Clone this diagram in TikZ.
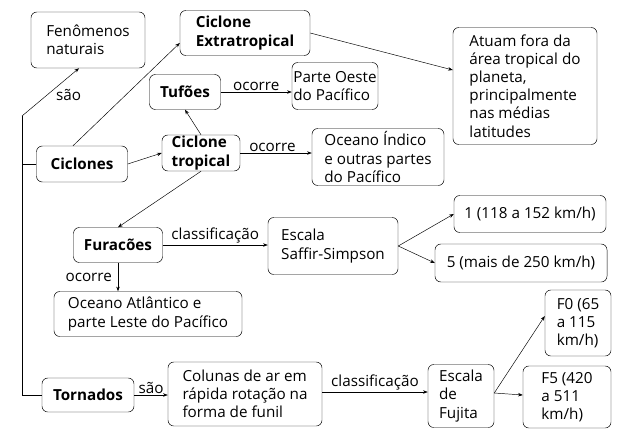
\documentclass[tikz,border=0pt]{standalone}
\usepackage{fontspec}
\setmainfont{Open Sans}
\usepackage{tikz}
\usetikzlibrary{arrows.meta}

\begin{document}
\begin{tikzpicture}[x=0.03cm,y=-0.03cm,
    ->,>={Stealth[length=4pt,width=3pt]},
    every node/.style={font=\fontsize{13}{15.5}\selectfont},
    box/.style={rectangle,
          draw,
          rounded corners=5pt,
          align=left,
          inner sep=0pt},
    lbl/.style={inner sep=1pt}]

    \useasboundingbox (0,0) rectangle (627,437);

    \node[box, minimum width=3.42cm, minimum height=1.68cm] (fen) at (88,40) {Fenômenos\\naturais};
    \node[box, minimum width=3.9cm, minimum height=1.35cm] (extra) at (245,33) {\textbf{Ciclone}\\\textbf{Extratropical}};
    \node[box, minimum width=4.32cm, minimum height=3.51cm] (atuam) at (525,86) {Atuam fora da\\área tropical do\\planeta,\\principalmente\\nas médias\\latitudes};
    \node[box, minimum width=2.13cm, minimum height=1.05cm] (tuf) at (185,92) {\textbf{Tufões}};
    \node[box, minimum width=2.58cm, minimum height=1.41cm] (oeste) at (335,86) {Parte Oeste\\do Pacífico};
    \node[box, minimum width=2.73cm, minimum height=1.08cm] (cic) at (82,164) {\textbf{Ciclones}};
    \node[box, minimum width=2.34cm, minimum height=1.08cm] (trop) at (201,153) {\textbf{Ciclone}\\\textbf{tropical}};
    \node[box, minimum width=3.96cm, minimum height=1.71cm] (indico) at (378,157) {Oceano Índico\\e outras partes\\do Pacífico};
    \node[box, minimum width=2.67cm, minimum height=1.05cm] (fur) at (118,245) {\textbf{Furacões}};
    \node[box, minimum width=3.9cm, minimum height=1.71cm] (saffir) at (333,246) {Escala\\Saffir-Simpson};
    \node[box, minimum width=4.56cm, minimum height=1.11cm] (um) at (530,214) {1 (118 a 152 km/h)};
    \node[box, minimum width=5.16cm, minimum height=1.14cm] (cinco) at (521,263) {5 (mais de 250 km/h)};
    \node[box, minimum width=5.64cm, minimum height=1.35cm] (atl) at (148,314) {Oceano Atlântico e\\parte Leste do Pacífico};
    \node[box, minimum width=1.98cm, minimum height=1.98cm] (fzero) at (578,323) {F0 (65\\a 115\\km/h)};
    \node[box, minimum width=2.64cm, minimum height=1.86cm] (fcinco) at (567,397) {F5 (420\\a 511\\km/h)};
    \node[box, minimum width=2.76cm, minimum height=1.02cm] (torn) at (88,395) {\textbf{Tornados}};
    \node[box, minimum width=4.62cm, minimum height=1.92cm] (col) at (245,394) {Colunas de ar em\\rápida rotação na\\forma de funil};
    \node[box, minimum width=1.98cm, minimum height=1.89cm] (fuj) at (461,396) {Escala\\de\\Fujita};

    \coordinate (top) at (22,116);
    \coordinate (bot) at (22,395);

    % tronco
    \draw[-] (bot) -- (top);
    \draw[-] (cic.west) -- (22,164);
    \draw[-] (torn.west) -- (bot);
    \draw (top) -- node[lbl,right=6pt,pos=0.45] {são} (fen.south -| 79,0);

    % ciclones
    \draw (cic.north -| 73,0) -- (extra.west |- 0,43);
    \draw (cic.east) -- (trop.west);
    \draw (trop.north) -- (tuf.south);
    \draw (tuf) -- node[lbl,above] {ocorre} (oeste.west |- tuf);
    \draw (trop) -- node[lbl,above,pos=0.45] {ocorre} (indico.west |- trop);
    \draw (extra.east) -- (atuam.west |- 0,70);
    \draw (trop.south) -- (fur.north);

    % furacoes
    \draw (fur) -- node[lbl,above] {classificação} (saffir.west |- fur);
    \draw (saffir.east) -- (um.west);
    \draw (saffir.east) -- (cinco.west);
    \draw (fur.south) -- node[lbl,left=4pt] {ocorre} (atl.north -| fur);

    % tornados
    \draw (torn) -- node[lbl,above] {são} (col.west |- torn);
    \draw (col.east |- 0,392) -- node[lbl,above] {classificação} (fuj.west |- 0,392);
    \draw (fuj.east |- 0,393) -- (fzero.west |- 0,316);
    \draw (fuj.east |- 0,393) -- (fcinco.west |- 0,395);

\end{tikzpicture}
\end{document}
